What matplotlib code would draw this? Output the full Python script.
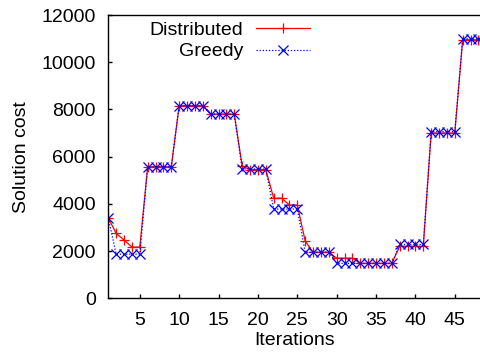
import matplotlib
matplotlib.use("Agg")
import matplotlib.pyplot as plt

# Values (iterations 49-50 fall past the right edge)
iterations = list(range(1, 51))
distributed = [3400, 2750, 2470, 2170, 2170,
               5570, 5570, 5570, 5570,
               8160, 8160, 8160, 8160,
               7800, 7800, 7800, 7800,
               5600, 5450, 5450, 5450,
               4240, 4240, 3950, 3950,
               2430, 1950, 1950, 1950,
               1700, 1700, 1700,
               1480, 1480, 1480, 1480, 1480,
               2200, 2200, 2200, 2200,
               7000, 7000, 7000, 7000,
               10950, 10950, 10950, 10950, 10950]
greedy = [3400, 1870, 1870, 1870, 1870,
          5570, 5570, 5570, 5570,
          8160, 8160, 8160, 8160,
          7800, 7800, 7800, 7800,
          5480, 5480, 5480, 5480,
          3780, 3780, 3780, 3780,
          1950, 1950, 1950, 1950,
          1480, 1480, 1480, 1480, 1480, 1480, 1480, 1480,
          2280, 2280, 2280, 2280,
          7060, 7060, 7060, 7060,
          10990, 10990, 10990, 10990, 10990]
x_ticks = [5, 10, 15, 20, 25, 30, 35, 40, 45]
y_ticks = [0, 2000, 4000, 6000, 8000, 10000, 12000]

plt.rcParams["font.family"] = ["Liberation Sans", "DejaVu Sans"]
plt.rcParams["font.size"] = 14

fig = plt.figure(figsize=(4.81, 3.58), dpi=100)
ax = fig.add_axes([108.3 / 481, 59.7 / 358, 1 - 108.3 / 481, 283.3 / 358])

ax.plot(iterations, distributed, color="#ff0000", lw=0.9, marker="+",
        markersize=7, markeredgewidth=0.9, label="Distributed")
ax.plot(iterations, greedy, color="#0000ff", lw=0.9, ls=(0, (1, 1.5)),
        marker="x", markersize=6.5, markeredgewidth=0.9, label="Greedy")

ax.set_xlim(1, 1 + (481 - 108.3) / 7.875)
ax.set_ylim(0, 12000)
ax.set_xticks(x_ticks)
ax.set_yticks(y_ticks)
ax.tick_params(direction="in", length=3, width=1, top=False, right=False)
ax.tick_params(axis="x", pad=10)
ax.tick_params(axis="y", pad=9)
ax.spines["right"].set_visible(False)
for s in ["left", "bottom", "top"]:
    ax.spines[s].set_linewidth(1.0)

ax.set_xlabel("Iterations", labelpad=2)
ax.set_ylabel("Solution cost", labelpad=8)

ax.legend(loc="upper right", bbox_to_anchor=(310 / 481, 1 - 21 / 358),
          bbox_transform=fig.transFigure, frameon=False, markerfirst=False,
          handlelength=2.8, handletextpad=0.65, labelspacing=0.22,
          borderpad=0, borderaxespad=0)

fig.savefig("out.png", dpi=100)
